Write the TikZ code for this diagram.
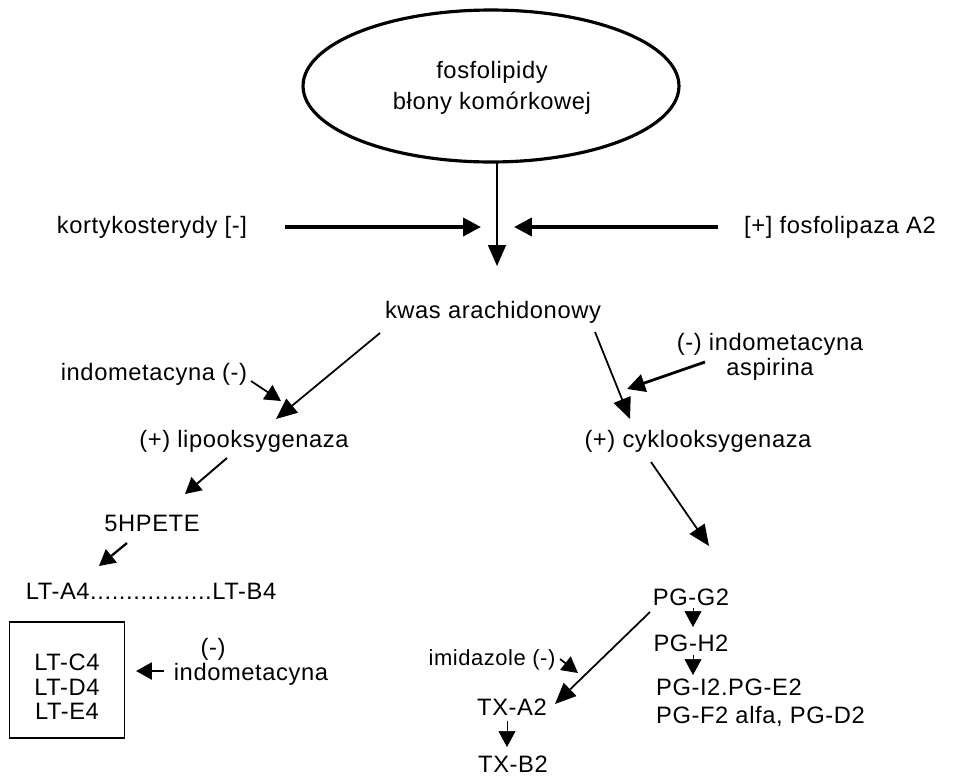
\documentclass[tikz,border=0pt]{standalone}
\usepackage{fontspec}
\setmainfont{Liberation Sans}[LetterSpace=2.5]
\usetikzlibrary{arrows.meta,shapes.geometric}
\begin{document}
\begin{tikzpicture}[x=0.02cm,y=-0.02cm,
  lbl/.style={font=\fontsize{13.5}{15}\selectfont, inner sep=1pt},
  thin/.style={line width=1pt, -{Triangle[length=0.42cm,width=0.36cm]}},
  thick/.style={line width=2.2pt, -{Triangle[length=0.36cm,width=0.36cm]}},
  small/.style={line width=0.6pt, -{Triangle[length=0.32cm,width=0.34cm]}}]
\useasboundingbox (0,0) rectangle (968,778);
% nodes
\node[draw, ellipse, line width=1.8pt, minimum width=7.52cm, minimum height=3.04cm, inner sep=0] (fos) at (491,86) {};
\node[lbl, align=center] (fostxt) at (492,88) {fosfolipidy\\[3pt]błony komórkowej};
\node[lbl] (kort) at (152,227) {kortykosterydy [-]};
\node[lbl] (fpa) at (840,227) {[+] fosfolipaza A2};
\node[lbl] (kwas) at (493,312) {kwas arachidonowy};
\node[lbl] (indo1) at (154,374) {indometacyna (-)};
\node[lbl] (lipo) at (244,441) {(+) lipooksygenaza};
\node[lbl, align=center] (indo2) at (770,357) {(-) indometacyna\\[-1pt]aspirina};
\node[lbl] (cyklo) at (698,441) {(+) cyklooksygenaza};
\node[lbl] (hpete) at (152,523) {5HPETE};
\node[lbl] (lta) at (151,591) {LT-A4.................LT-B4};
\node[draw, line width=1pt, minimum width=2.3cm, minimum height=2.32cm] (box) at (67,680) {};
\node[lbl, align=center] (ltc) at (67,687) {LT-C4\\[-1pt]LT-D4\\[-1pt]LT-E4};
\node[lbl] (indo3m) at (213,649) {(-)};
\node[lbl] (indo3) at (251,674) {indometacyna};
\node[lbl] (pgg) at (691,597) {PG-G2};
\node[lbl] (pgh) at (691,643) {PG-H2};
\node[lbl, align=left, anchor=west] (pgi) at (654,703) {PG-I2.PG-E2\\[1pt]PG-F2 alfa, PG-D2};
\node[lbl, font=\fontsize{12.5}{14}\selectfont] (imid) at (492,660) {imidazole (-)};
\node[lbl] (txa) at (512,707) {TX-A2};
\node[lbl] (txb) at (513,764) {TX-B2};
% coordinates
\coordinate (c1) at (497,266);
\coordinate (c2) at (481,227);
\coordinate (c3) at (514,227);
\coordinate (c4) at (276,419);
\coordinate (c5) at (281,401);
\coordinate (c6) at (630,419);
\coordinate (c7) at (627,389);
\coordinate (c8) at (185,494);
\coordinate (c9) at (99,566);
\coordinate (c10) at (136,671);
\coordinate (c11) at (709,546);
\coordinate (c12) at (693,627);
\coordinate (c13) at (693,675);
\coordinate (c14) at (555,704);
\coordinate (c15) at (578,673);
\coordinate (c16) at (507,747);
% connectors
\draw[thin] (497,162) -- (c1);
\draw[thick] (285,227) -- (c2);
\draw[thick] (718,227) -- (c3);
\draw[thin] (380,333) -- (c4);
\draw[small, line width=1pt] (251,381) -- (c5);
\draw[thin] (595,332) -- (c6);
\draw[thick, line width=1.6pt] (705,362) -- (c7);
\draw[small, line width=1.1pt] (227,458) -- (c8);
\draw[small, line width=1.3pt] (127,543) -- (c9);
\draw[small, line width=1.6pt] (164,671) -- (c10);
\draw[thin] (651,462) -- (c11);
\draw[small, line width=0.4pt] (693,608) -- (c12);
\draw[small, line width=0.4pt] (693,655) -- (c13);
\draw[thin] (650,612) -- (c14);
\draw[small, line width=1pt] (560,659) -- (c15);
\draw[small, line width=0.4pt] (507,721) -- (c16);
\end{tikzpicture}
\end{document}
